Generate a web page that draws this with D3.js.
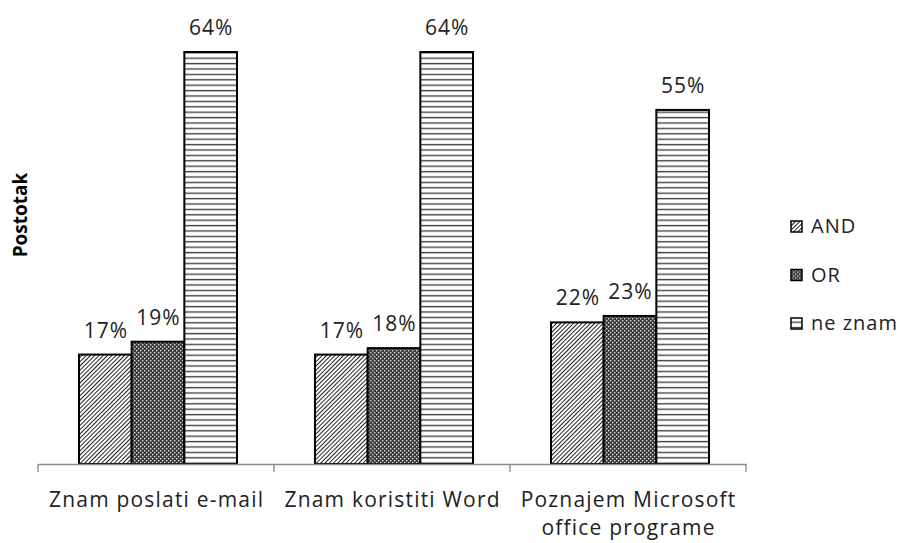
<!DOCTYPE html>
<html>
<head>
<meta charset="utf-8">
<script src="https://cdn.jsdelivr.net/npm/d3@7"></script>
<style>
  body { margin: 0; background: #fff; }
  svg { font-family: "Open Sans", "Noto Sans", sans-serif; }
</style>
</head>
<body>
<svg id="chart"></svg>
<script>
const width = 906;
const height = 543;

const categories = ["Znam poslati e-mail", "Znam koristiti Word", "Poznajem Microsoft office programe"];
const series = ["AND", "OR", "ne znam"];
const andValues = [17, 17, 22];
const orValues = [19, 18, 23];
const neZnamValues = [64, 64, 55];

const valuesBySeries = { "AND": andValues, "OR": orValues, "ne znam": neZnamValues };

const svg = d3.select("#chart")
    .attr("width", width)
    .attr("height", height);

// patterns
const defs = svg.append("defs");

const hatch = defs.append("pattern")
    .attr("id", "pat-and")
    .attr("patternUnits", "userSpaceOnUse")
    .attr("width", 3).attr("height", 3)
    .attr("patternTransform", "rotate(45)");
hatch.append("rect").attr("width", 3).attr("height", 3).attr("fill", "#fff");
hatch.append("rect").attr("width", 1).attr("height", 3).attr("fill", "#222");

const dots = defs.append("pattern")
    .attr("id", "pat-or")
    .attr("patternUnits", "userSpaceOnUse")
    .attr("width", 4).attr("height", 4);
dots.append("rect").attr("width", 4).attr("height", 4).attr("fill", "#3a3a3a");
dots.append("rect").attr("x", 0).attr("y", 0).attr("width", 1.4).attr("height", 1.4).attr("fill", "#ddd");
dots.append("rect").attr("x", 2).attr("y", 2).attr("width", 1.4).attr("height", 1.4).attr("fill", "#ddd");

const lines = defs.append("pattern")
    .attr("id", "pat-ne")
    .attr("patternUnits", "userSpaceOnUse")
    .attr("width", 6).attr("height", 5.4);
lines.append("rect").attr("width", 6).attr("height", 5.4).attr("fill", "#fff");
lines.append("rect").attr("y", 3.5).attr("width", 6).attr("height", 1.4).attr("fill", "#444");

const fills = d3.scaleOrdinal()
    .domain(series)
    .range(["url(#pat-and)", "url(#pat-or)", "url(#pat-ne)"]);

const x0 = d3.scaleBand()
    .domain(categories)
    .range([38, 746])
    .padding(0);

const x1 = d3.scaleBand()
    .domain(series)
    .range([2, x0.bandwidth() + 2])
    .paddingInner(0)
    .paddingOuter(0.74);

const y = d3.scaleLinear()
    .domain([0, 64])
    .range([464, 52]);

const groups = svg.selectAll(".group")
    .data(categories)
    .enter().append("g")
    .attr("class", "group")
    .attr("transform", d => `translate(${x0(d)},0)`);

groups.selectAll("rect")
    .data((d, i) => series.map(s => ({ s, v: valuesBySeries[s][i] })))
    .enter().append("rect")
    .attr("x", d => x1(d.s))
    .attr("y", d => y(d.v))
    .attr("width", x1.bandwidth())
    .attr("height", d => y(0) - y(d.v))
    .attr("fill", d => fills(d.s))
    .attr("stroke", "#000")
    .attr("stroke-width", 2);

// value labels
groups.selectAll("text.val")
    .data((d, i) => series.map(s => ({ s, v: valuesBySeries[s][i] })))
    .enter().append("text")
    .attr("class", "val")
    .attr("x", d => x1(d.s) + x1.bandwidth() / 2 + 0.5)
    .attr("y", d => y(d.v) - 17)
    .attr("text-anchor", "middle")
    .attr("font-size", 21)
    .attr("letter-spacing", 1)
    .attr("fill", "#222")
    .text(d => d.v + "%");

// x axis
const axis = svg.append("g")
    .attr("transform", `translate(0,${y(0)})`)
    .call(d3.axisBottom(x0).tickSize(0).tickFormat(""));
axis.select(".domain").attr("stroke", "#888").attr("stroke-width", 1.3);

const bounds = x0.range();
const tickXs = categories.map(c => x0(c)).concat([bounds[1]]);
svg.selectAll(".tickline")
    .data(tickXs)
    .enter().append("line")
    .attr("x1", d => d).attr("x2", d => d)
    .attr("y1", y(0)).attr("y2", y(0) + 8)
    .attr("stroke", "#888")
    .attr("stroke-width", 1.3);

// category labels (wrap)
const catLines = [["Znam poslati e-mail"], ["Znam koristiti Word"], ["Poznajem Microsoft", "office programe"]];
svg.selectAll(".cat")
    .data(categories)
    .enter().append("text")
    .attr("class", "cat")
    .attr("text-anchor", "middle")
    .attr("font-size", 21)
    .attr("letter-spacing", 1.2)
    .attr("fill", "#222")
    .each(function(d, i) {
        const t = d3.select(this);
        catLines[i].forEach((ln, j) => {
            t.append("tspan")
                .attr("x", x0(d) + x0.bandwidth() / 2 + 0.6)
                .attr("y", 507 + j * 28)
                .text(ln);
        });
    });

// y title
svg.append("text")
    .attr("transform", "translate(27,215) rotate(-90)")
    .attr("text-anchor", "middle")
    .attr("font-size", 19)
    .attr("font-weight", "bold")
    .attr("fill", "#000")
    .text("Postotak");

// legend
const legend = svg.selectAll(".legend")
    .data(series)
    .enter().append("g")
    .attr("class", "legend")
    .attr("transform", (d, i) => `translate(791,${221 + i * 48.5})`);

legend.append("rect")
    .attr("width", 11).attr("height", 11)
    .attr("fill", d => fills(d))
    .attr("stroke", "#000")
    .attr("stroke-width", 1.5);

legend.append("text")
    .attr("x", 20)
    .attr("y", 12)
    .attr("font-size", 20)
    .attr("letter-spacing", 1)
    .attr("fill", "#222")
    .text(d => d);
</script>
</body>
</html>
